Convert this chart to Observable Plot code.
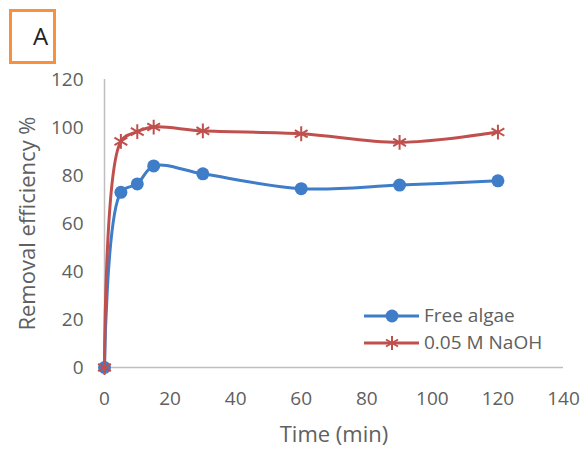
<!DOCTYPE html>
<html>
<head>
<meta charset="utf-8">
<script src="https://cdn.jsdelivr.net/npm/d3@7"></script>
<script src="https://cdn.jsdelivr.net/npm/@observablehq/plot@0.6"></script>
<style>
  body { margin: 0; background: #fff; font-family: "Open Sans", "Noto Sans", sans-serif; }
  #wrap { position: relative; width: 583px; height: 450px; }
  #tag { position: absolute; left: 9px; top: 9px; width: 41px; height: 49px; border: 3px solid #F7913D;
         font-size: 24px; color: #222; box-sizing: content-box; }
  #tag span { position: absolute; left: 21px; top: 11px; line-height: 26px; }
  #legend { position: absolute; left: 364px; top: 302px; font-size: 19px; color: #606060; line-height: 27px; }
  #legend div { display: flex; align-items: center; height: 27px; }
  #legend svg { margin-right: 4px; }
</style>
</head>
<body>
<div id="wrap">
  <div id="tag"><span>A</span></div>
  <div id="legend"></div>
</div>
<script>
const times = [0, 5, 10, 15, 30, 60, 90, 120];
const freeAlgae = [0, 73, 76.5, 84, 80.7, 74.5, 76, 77.8];
const naoh = [0, 94.2, 98.3, 100.2, 98.6, 97.4, 93.8, 98.1];
const seriesNames = ["Free algae", "0.05 M NaOH"];
const seriesColors = ["#3F7DC8", "#C0504D"];
const xTicks = [0, 20, 40, 60, 80, 100, 120, 140];
const yTicks = [0, 20, 40, 60, 80, 100, 120];

const blue = times.map((t, i) => ({t, v: freeAlgae[i]}));
const red = times.map((t, i) => ({t, v: naoh[i]}));

const chart = Plot.plot({
  width: 583,
  height: 450,
  marginLeft: 104,
  marginRight: 20,
  marginTop: 79,
  marginBottom: 83,
  style: {fontFamily: "'Open Sans', 'Noto Sans', sans-serif", fontSize: "19px", color: "#606060", background: "transparent"},
  x: {domain: [0, 140], label: null},
  y: {domain: [0, 120], label: null},
  marks: [
    Plot.ruleY([0], {stroke: "#BFBFBF", strokeWidth: 1.5}),
    Plot.ruleX([0], {stroke: "#BFBFBF", strokeWidth: 1.5}),
    Plot.line(blue, {x: "t", y: "v", stroke: seriesColors[0], strokeWidth: 3, curve: "catmull-rom"}),
    Plot.dot(blue, {x: "t", y: "v", fill: seriesColors[0], r: 6.5, symbol: "circle"}),
    Plot.line(red, {x: "t", y: "v", stroke: seriesColors[1], strokeWidth: 3, curve: "catmull-rom"}),
    Plot.dot(red, {x: "t", y: "v", stroke: seriesColors[1], r: 7, strokeWidth: 2, symbol: "asterisk"}),
    Plot.axisX({ticks: xTicks, tickSize: 0, tickPadding: 24, fontSize: 19, fill: "#606060", label: null}),
    Plot.axisY({ticks: yTicks, tickSize: 0, tickPadding: 21, fontSize: 19, fill: "#606060", label: null}),
    Plot.text(["Time (min)"], {frameAnchor: "bottom", dy: 74, fontSize: 22, fill: "#606060"}),
    Plot.text(["Removal efficiency %"], {frameAnchor: "left", dx: -77, rotate: -90, textAnchor: "middle", fontSize: 22, fill: "#606060"})
  ]
});
document.getElementById("wrap").prepend(chart);
chart.style.position = "absolute";
chart.style.left = "0";
chart.style.top = "0";

const legend = document.getElementById("legend");
seriesNames.forEach((name, i) => {
  const row = document.createElement("div");
  const marker = i === 0
    ? `<circle cx="28" cy="11" r="6.5" fill="${seriesColors[i]}"/>`
    : `<g stroke="${seriesColors[i]}" stroke-width="2"><line x1="28" y1="4" x2="28" y2="18"/><line x1="22" y1="7.5" x2="34" y2="14.5"/><line x1="22" y1="14.5" x2="34" y2="7.5"/></g>`;
  row.innerHTML = `<svg width="56" height="22"><line x1="0" y1="11" x2="55" y2="11" stroke="${seriesColors[i]}" stroke-width="3"/>${marker}</svg><span>${name}</span>`;
  legend.appendChild(row);
});
</script>
</body>
</html>
